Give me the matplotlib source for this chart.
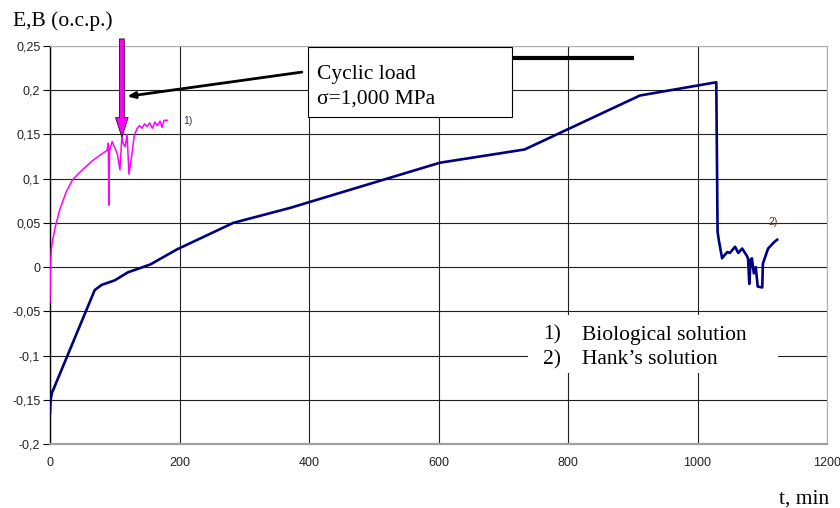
import matplotlib
matplotlib.use("Agg")
import matplotlib.pyplot as plt
from matplotlib.patches import Rectangle

# ---- data ----
bio_t = [0, 0.5, 1, 2, 4, 8, 15, 25, 35, 50, 65, 80, 88, 90, 91, 92, 96, 100, 104, 108,
         111, 113, 116, 119, 122, 126, 130, 134, 138, 142, 146, 150, 154, 158, 162, 166,
         170, 173, 176, 181]
bio_E = [-0.04, -0.01, 0.005, 0.02, 0.03, 0.045, 0.065, 0.085, 0.099, 0.110, 0.120, 0.128,
         0.132, 0.140, 0.070, 0.132, 0.142, 0.135, 0.128, 0.110, 0.148, 0.140, 0.136,
         0.150, 0.105, 0.125, 0.148, 0.156, 0.160, 0.157, 0.162, 0.159, 0.163, 0.157,
         0.164, 0.160, 0.165, 0.158, 0.166, 0.166]

hank_t = [0, 1, 3, 6, 69, 80, 100, 120, 155, 196, 283, 371, 602, 733, 911, 1029,
          1031, 1033, 1035, 1038, 1040, 1046, 1050, 1058, 1063, 1069, 1076, 1078, 1080,
          1082, 1084, 1087, 1090, 1093, 1100, 1101, 1109, 1118, 1123]
hank_E = [-0.165, -0.150, -0.142, -0.137, -0.026, -0.020, -0.015, -0.006, 0.003, 0.020,
          0.050, 0.067, 0.118, 0.133, 0.194, 0.209,
          0.040, 0.030, 0.022, 0.010, 0.012, 0.017, 0.016, 0.023, 0.016, 0.021, 0.013,
          0.010, -0.019, 0.008, 0.010, -0.007, 0.000, -0.022, -0.023, 0.004, 0.021,
          0.028, 0.031]

x_ticks = [0, 200, 400, 600, 800, 1000, 1200]
y_ticks = [-0.2, -0.15, -0.1, -0.05, 0, 0.05, 0.1, 0.15, 0.2, 0.25]
y_labels = ["-0,2", "-0,15", "-0,1", "-0,05", "0", "0,05", "0,1", "0,15", "0,2", "0,25"]

legend_lines = [("1)", "Biological solution"), ("2)", "Hank\u2019s solution")]

# ---- figure ----
fig = plt.figure(figsize=(8.4, 5.08), dpi=100)
ax = fig.add_axes([50 / 840, 64 / 508, 777 / 840, 398 / 508])
ax.set_xlim(0, 1200)
ax.set_ylim(-0.2, 0.25)

ax.set_xticks(x_ticks)
ax.set_xticklabels([str(v) for v in x_ticks])
ax.set_yticks(y_ticks)
ax.set_yticklabels(y_labels)
ax.grid(True, color="#202020", linewidth=0.8)
ax.set_axisbelow(True)

for lab in ax.get_xticklabels() + ax.get_yticklabels():
    lab.set_fontfamily("Liberation Sans")
    lab.set_fontsize(9)
    lab.set_color("#222222")
ax.tick_params(axis="y", length=5, width=0.8, color="black", pad=2)
ax.tick_params(axis="x", length=0, pad=9)

ax.spines["left"].set_color("black")
ax.spines["left"].set_linewidth(1.0)
ax.spines["bottom"].set_color("#a0a0a0")
ax.spines["bottom"].set_linewidth(1.6)
ax.spines["top"].set_color("#b0b0b0")
ax.spines["right"].set_color("#b0b0b0")

ax.plot(hank_t, hank_E, color="#000080", linewidth=1.9, zorder=3)
ax.plot(bio_t, bio_E, color="#ff00ff", linewidth=1.1, zorder=4)

ax.text(206, 0.165, "1)", fontsize=7.5, color="#333355", family="Liberation Sans",
        va="center")
ax.text(1110, 0.051, "2)", fontsize=7.5, color="#553322", family="Liberation Sans",
        va="center")

serif = "Liberation Serif"
fs = 15.5

# annotation box
ax.add_patch(Rectangle((398, 0.170), 315, 0.079, facecolor="white", edgecolor="black",
                       linewidth=0.8, zorder=6, clip_on=False))
ax.text(413, 0.218, "Cyclic load", family=serif, fontsize=fs, va="center", zorder=7)
ax.text(413, 0.190, "\u03c3=1,000 MPa", family=serif, fontsize=fs, va="center", zorder=7)
ax.plot([713, 902], [0.2364, 0.2364], color="black", linewidth=3, zorder=6,
        solid_capstyle="butt")

# black arrow
ax.annotate("", xy=(119, 0.193), xytext=(389, 0.2205),
            arrowprops=dict(arrowstyle="-|>,head_length=0.45,head_width=0.18",
                            color="black", linewidth=2.0, shrinkA=0, shrinkB=0),
            zorder=5)

# magenta arrow
ax.annotate("", xy=(111, 0.147), xytext=(111, 0.258),
            arrowprops=dict(arrowstyle="simple,head_length=1.4,head_width=0.9,tail_width=0.35",
                            facecolor="#ff00ff", edgecolor="#330033", linewidth=0.6,
                            shrinkA=0, shrinkB=0),
            annotation_clip=False, zorder=8)

# legend box
ax.add_patch(Rectangle((738, -0.120), 386, 0.066, facecolor="white", edgecolor="none",
                       zorder=5))
for i, (num, txt) in enumerate(legend_lines):
    yy = -0.077 - 0.028 * i
    ax.text(761, yy, num, family=serif, fontsize=fs, va="center", zorder=6)
    ax.text(822, yy, txt, family=serif, fontsize=fs, va="center", zorder=6)

fig.text(13 / 840, 1 - 21 / 508, "E,B (o.c.p.)", family=serif, fontsize=fs, va="center")
fig.text(829 / 840, 1 - 499 / 508, "t, min", family=serif, fontsize=fs, va="center",
         ha="right")

fig.savefig("out.png", dpi=100)
